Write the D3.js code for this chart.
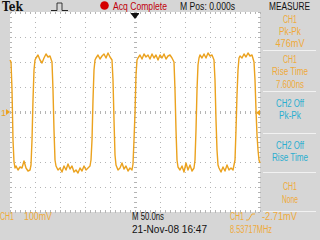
<!DOCTYPE html>
<html><head><meta charset="utf-8">
<script src="https://cdn.jsdelivr.net/npm/d3@7"></script>
<style>html,body{margin:0;padding:0;background:#d6d6d6;overflow:hidden}svg{display:block}</style>
</head><body><svg id="c" width="320" height="240"></svg>
<script>
// ---- data (time in ns relative to trigger, CH1 voltage in mV) ----
const timeNs = [-250,-248,-246,-244,-242,-240,-238,-234,-230,-226,-222,-218,-214,-210,-208,-206,-204,-202,-200,-198,-194,-190,-186,-182,-178,-174,-170,-166,-164,-162,-160,-158,-154,-150,-146,-142,-138,-134,-130,-126,-122,-118,-114,-110,-106,-102,-98,-94,-90,-88,-86,-84,-82,-80,-78,-74,-70,-66,-62,-58,-54,-50,-46,-44,-42,-40,-38,-34,-30,-26,-22,-18,-14,-10,-6,-4,-2,0,2,4,6,10,14,18,22,26,30,34,38,42,46,50,54,58,62,66,70,74,78,80,82,84,86,90,94,98,102,106,110,114,118,120,122,124,126,128,130,134,138,142,146,150,154,158,160,162,164,166,168,172,176,180,184,188,192,196,200,202,204,206,208,210,214,218,222,226,230,234,238,240,242,244,246,248,250];
const ch1mV = [208,200,88,-112,-200,-224,-216,-232,-220,-224,-196,-224,-236,-232,-212,-112,48,168,208,216,228,208,196,216,232,220,224,200,88,-72,-192,-216,-232,-224,-240,-216,-232,-208,-228,-216,-240,-232,-244,-224,-236,-216,-232,-224,-216,-192,-112,48,168,208,216,228,212,224,232,216,236,220,208,128,-32,-172,-212,-232,-224,-204,-228,-216,-236,-224,-232,-208,-112,-4,148,208,216,228,212,232,220,228,212,232,216,228,208,228,216,232,212,224,228,216,200,88,-72,-192,-220,-232,-216,-240,-204,-232,-212,-236,-224,-192,-72,88,188,216,228,216,232,216,236,224,228,208,128,-32,-152,-212,-224,-240,-220,-236,-212,-232,-224,-232,-192,-72,68,168,216,224,216,232,220,236,224,228,200,128,8,-92,-152,-192,-204];
const gridTimeNs = [-250,-200,-150,-100,-50,0,50,100,150,200,250];
const gridVoltMv = [-400,-300,-200,-100,0,100,200,300,400];
const measSource = ["CH1","CH1","CH2 Off","CH2 Off","CH1"];
const measType   = ["Pk-Pk","Rise Time","Pk-Pk","Rise Time","None"];
const measValue  = ["476mV","7.600ns","","",""];
const headerText = {brand:"Tek", acq:"Acq Complete", pos:"M Pos: 0.000s", menu:"MEASURE"};
const footerText = {ch:"CH1", scale:"100mV", time:"M 50.0ns", date:"21-Nov-08 16:47", trigCh:"CH1", trigLevel:"-2.71mV", freq:"8.53717MHz"};

// ---- drawing ----
const svg = d3.select("#c");
const ORANGE = "#eba21e", TXT_OR = "#efaa3a", CYAN = "#2aaed0", GRID = "#b4b4b4";
const L = 10, R = 260, T = 12, B = 212;
const x = d3.scaleLinear().domain([-250, 250]).range([L, R]);
const y = d3.scaleLinear().domain([-400, 400]).range([B, T]);

svg.append("rect").attr("width",320).attr("height",240).attr("fill","#d6d6d6");
svg.append("rect").attr("x",L).attr("y",T).attr("width",R-L).attr("height",B-T).attr("fill","#ffffff");

const g = svg.append("g");
// dotted grid
g.selectAll("line.v").data(gridTimeNs).join("line")
  .attr("x1",d=>x(d)+0.5).attr("x2",d=>x(d)+0.5).attr("y1",T).attr("y2",B)
  .attr("stroke",GRID).attr("stroke-width",1).attr("stroke-dasharray","1,4");
g.selectAll("line.h").data(gridVoltMv).join("line")
  .attr("y1",d=>y(d)+0.5).attr("y2",d=>y(d)+0.5).attr("x1",L).attr("x2",R)
  .attr("stroke",GRID).attr("stroke-width",1).attr("stroke-dasharray","1,4");
// minor ticks on centre cross and frame
const minorT = d3.range(-250, 251, 10);
const minorV = d3.range(-400, 401, 20);
g.selectAll("line.mt").data(minorT).join("line")
  .attr("x1",d=>x(d)+0.5).attr("x2",d=>x(d)+0.5).attr("y1",y(0)-1).attr("y2",y(0)+2)
  .attr("stroke",GRID);
g.selectAll("line.mv").data(minorV).join("line")
  .attr("y1",d=>y(d)+0.5).attr("y2",d=>y(d)+0.5).attr("x1",x(0)-1).attr("x2",x(0)+2)
  .attr("stroke",GRID);
g.selectAll("line.bt").data(minorT).join("line")
  .attr("x1",d=>x(d)+0.5).attr("x2",d=>x(d)+0.5).attr("y1",B-2).attr("y2",B)
  .attr("stroke",GRID);
g.selectAll("line.tt").data(minorT).join("line")
  .attr("x1",d=>x(d)+0.5).attr("x2",d=>x(d)+0.5).attr("y1",T).attr("y2",T+2)
  .attr("stroke",GRID);
g.selectAll("line.lt").data(minorV).join("line")
  .attr("y1",d=>y(d)+0.5).attr("y2",d=>y(d)+0.5).attr("x1",L).attr("x2",L+2)
  .attr("stroke",GRID);
g.selectAll("line.rt").data(minorV).join("line")
  .attr("y1",d=>y(d)+0.5).attr("y2",d=>y(d)+0.5).attr("x1",R-2).attr("x2",R)
  .attr("stroke",GRID);

// waveform
const pts = timeNs.map((t,i)=>[t, ch1mV[i]]);
svg.append("path").datum(pts)
  .attr("d", d3.line().x(d=>x(d[0])).y(d=>y(d[1])))
  .attr("fill","none").attr("stroke",ORANGE).attr("stroke-width",1.4).attr("stroke-linejoin","round");

// markers
svg.append("path").attr("d",`M${x(0)-4},${T+2}L${x(0)+4},${T+2}L${x(0)},${T+7}Z`).attr("fill","#111");
svg.append("line").attr("x1",x(0)-4).attr("x2",x(0)+4).attr("y1",T+1.5).attr("y2",T+1.5).attr("stroke","#111");
svg.append("text").attr("x",1).attr("y",y(0)+4).text("1")
  .attr("font-family","Liberation Sans, Arial, sans-serif").attr("font-size",9).attr("fill",ORANGE);
svg.append("path").attr("d",`M6,${y(0)-3}L10,${y(0)}L6,${y(0)+3}Z`).attr("fill",ORANGE);
svg.append("path").attr("d",`M${R-4},${y(-2.71)}L${R},${y(-2.71)-3}L${R},${y(-2.71)+3}Z`).attr("fill",ORANGE);

const FONT = "Liberation Sans, Arial, sans-serif";
function txt(s, xx, yy, fill, len, opts={}) {
  const t = svg.append("text").attr("x",xx).attr("y",yy).text(s)
    .attr("font-family",opts.family||FONT).attr("font-size",opts.size||10)
    .attr("fill",fill);
  if (opts.weight) t.attr("font-weight",opts.weight);
  if (opts.anchor) t.attr("text-anchor",opts.anchor);
  if (len) t.attr("textLength",len).attr("lengthAdjust","spacingAndGlyphs");
  return t;
}

// header
txt(headerText.brand, 2, 11, "#111", 21, {family:"DejaVu Serif, Liberation Serif, serif", size:12, weight:"bold"});
svg.append("path").attr("d","M51,10.5H57V3H62V10.5H68").attr("fill","none").attr("stroke","#222").attr("stroke-width",1).attr("stroke-dasharray","1,0");
svg.append("circle").attr("cx",104.5).attr("cy",5.5).attr("r",4.3).attr("fill","#d40000");
txt(headerText.acq, 113, 10, "#c0000a", 54);
txt(headerText.pos, 180, 10, "#111", 55);
txt(headerText.menu, 269, 10, "#111", 41);

// measure panel
const rowSep = [50, 91, 133, 172, 211];
svg.selectAll("line.sep").data(rowSep).join("line")
  .attr("x1",263).attr("x2",316).attr("y1",d=>d+0.5).attr("y2",d=>d+0.5)
  .attr("stroke","#f2f2f2").attr("stroke-width",1);
const rowBase = [[23,35,47],[63,75,88],[107,119],[149,161],[190,203]];
const widthOf = {"CH1":14,"Pk-Pk":22,"476mV":29,"Rise Time":36,"7.600ns":28,"CH2 Off":28,"None":16};
measSource.forEach((src,i)=>{
  const col = src.startsWith("CH2") ? CYAN : TXT_OR;
  const lines = [src, measType[i], measValue[i]].filter(s=>s);
  lines.forEach((s,j)=>{
    txt(s, 290, rowBase[i][j], col, widthOf[s], {anchor:"middle"});
  });
});

// footer
txt(footerText.ch, 0, 220, TXT_OR, 14);
txt(footerText.scale, 24, 220, TXT_OR, 28);
txt(footerText.time, 132, 220, "#111", 32);
txt(footerText.date, 132, 233, "#111", 75);
txt(footerText.trigCh, 230, 220, TXT_OR, 14);
svg.append("path").attr("d","M246,220H248.5L252,214H255").attr("fill","none").attr("stroke",TXT_OR).attr("stroke-width",1);
txt(footerText.trigLevel, 262, 220, TXT_OR, 35);
txt(footerText.freq, 230, 233, TXT_OR, 42);
</script></body></html>
